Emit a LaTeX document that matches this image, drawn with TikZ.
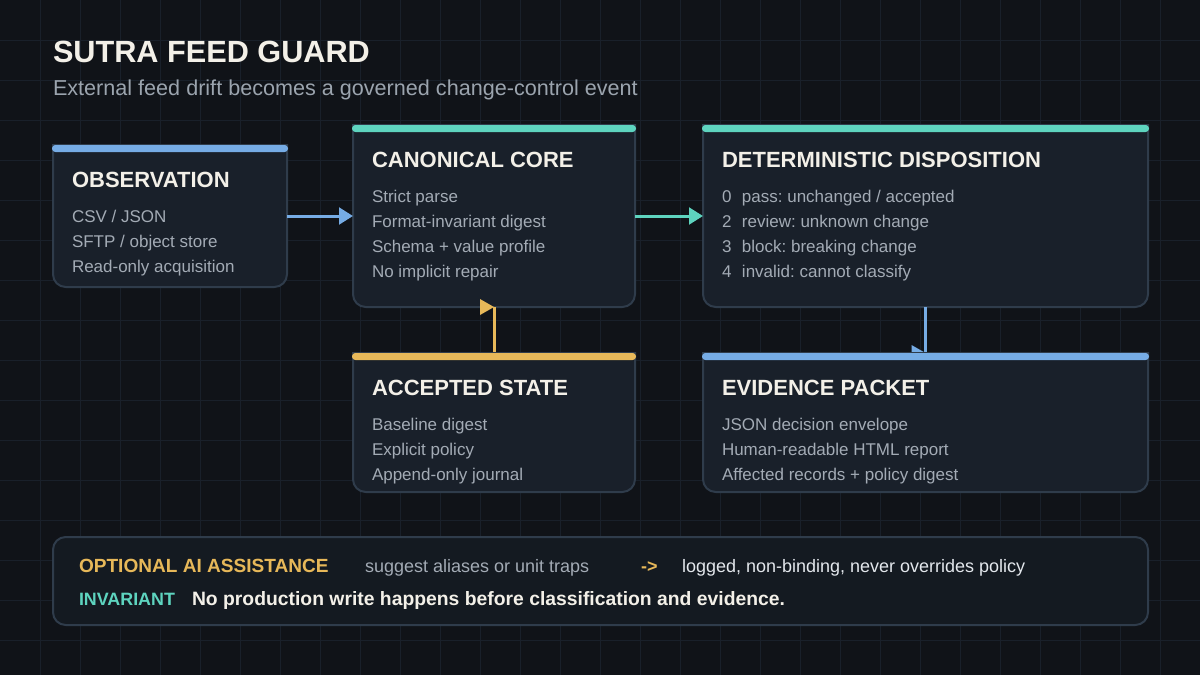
\documentclass[tikz,border=0pt]{standalone}
\usepackage{fontspec}
\setmainfont{Liberation Sans}
\usetikzlibrary{fit,arrows.meta}
\frenchspacing
\definecolor{bg}{HTML}{101318}
\definecolor{gridc}{HTML}{19202A}
\definecolor{cardfill}{HTML}{19202A}
\definecolor{cardline}{HTML}{2F3C4B}
\definecolor{panelfill}{HTML}{141A21}
\definecolor{cblue}{HTML}{76ACE5}
\definecolor{cteal}{HTML}{5ED4BF}
\definecolor{cyellow}{HTML}{E7B859}
\definecolor{ctitle}{HTML}{F3F0E8}
\definecolor{cbody}{HTML}{A3ABB5}
\definecolor{csub}{HTML}{9BA4AE}
\definecolor{clight}{HTML}{E3E7EC}
\newcommand\fsz[1]{\fontsize{#1}{#1}\selectfont}
\newcommand\drawcard[2]{%
  \draw[cardframe] (#1.north west) -- ([yshift=9.5pt]#1.south west)
    arc[start angle=180,end angle=270,radius=9.5pt]
    -- ([xshift=-9.5pt]#1.south east)
    arc[start angle=270,end angle=360,radius=9.5pt]
    -- (#1.north east) -- cycle;
  \fill[#2, rounded corners=2.5pt] ([xshift=-0.75pt]#1.north west) rectangle ([xshift=0.75pt,yshift=-5.25pt]#1.north east);
}
\tikzset{
  txt/.style={inner sep=0pt, outer sep=0pt, anchor=base west},
  maintitle/.style={txt, text=ctitle, font=\fsz{23pt}\bfseries},
  subtitle/.style={txt, text=csub, font=\fsz{16.2pt}},
  cardtitle/.style={txt, text=ctitle, font=\fsz{16.5pt}\bfseries},
  cardbody/.style={txt, text=cbody, font=\fsz{12.75pt}},
  cardframe/.style={fill=cardfill, draw=cardline, line width=1.5pt},
  region/.style={inner sep=0pt, outer sep=0pt},
  flow/.style={line width=2.25pt},
  flowtip/.style={-{Triangle[length=10.5pt,width=12.5pt]}},
  gridline/.style={draw=gridc, line width=0.75pt},
  paneltag/.style={txt, font=\fsz{14.3pt}\bfseries},
  paneltext/.style={txt, font=\fsz{13.5pt}}
}
\begin{document}
\begin{tikzpicture}[x=0.75pt,y=-0.75pt]
\useasboundingbox (0,0) rectangle (1200,675);
\fill[bg] (0,0) rectangle (1200,675);
\foreach \gx in {40,80,...,1160} {\draw[gridline] (\gx,0) -- (\gx,675);}
\foreach \gy in {40,80,...,640} {\draw[gridline] (0,\gy) -- (1200,\gy);}

% header
\node[maintitle] (title) at (53,62) {SUTRA FEED GUARD};
\node[subtitle] (subtitle) at (53,95) {External feed drift becomes a governed change-control event};

% regions
\node[region, fit={(53,145) (287,287)}] (obs) {};
\node[region, fit={(353,125) (635,307)}] (core) {};
\node[region, fit={(703,125) (1148,307)}] (det) {};
\node[region, fit={(353,353) (635,492)}] (acc) {};
\node[region, fit={(703,353) (1148,492)}] (evid) {};

% upper cards
\drawcard{obs}{cblue}
\drawcard{core}{cteal}
\drawcard{det}{cteal}

% connectors
\draw[flow, flowtip, cblue] (obs.east) -- (core.west);
\draw[flow, flowtip, cteal] (core.east) -- (det.west);
\draw[flow, cyellow] (acc.north) -- (core.south);
\fill[cyellow] (core.south) -- ++(-14,-8) -- ++(0,16) -- cycle;
\draw[flow, cblue] (det.south) -- (evid.north);
\fill[cblue] (evid.north) -- ++(-14,-8) -- ++(0,16) -- cycle;

% lower cards
\drawcard{acc}{cyellow}
\drawcard{evid}{cblue}

% observation
\node[cardtitle] (obsT) at (72,187) {OBSERVATION};
\node[cardbody] (obs1) at (72,222) {CSV / JSON};
\node[cardbody] (obs2) at (72,247) {SFTP / object store};
\node[cardbody] (obs3) at (72,272) {Read-only acquisition};

% canonical core
\node[cardtitle] (coreT) at (372,167) {CANONICAL CORE};
\node[cardbody] (core1) at (372,202) {Strict parse};
\node[cardbody] (core2) at (372,227) {Format-invariant digest};
\node[cardbody] (core3) at (372,252) {Schema + value profile};
\node[cardbody] (core4) at (372,277) {No implicit repair};

% deterministic disposition
\node[cardtitle] (detT) at (722,167) {DETERMINISTIC DISPOSITION};
\node[cardbody] (det1) at (722,202) {0\hskip7.9pt pass: unchanged / accepted};
\node[cardbody] (det2) at (722,227) {2\hskip7.9pt review: unknown change};
\node[cardbody] (det3) at (722,252) {3\hskip7.9pt block: breaking change};
\node[cardbody] (det4) at (722,277) {4\hskip7.9pt invalid: cannot classify};

% accepted state
\node[cardtitle] (accT) at (372,395) {ACCEPTED STATE};
\node[cardbody] (acc1) at (372,430) {Baseline digest};
\node[cardbody] (acc2) at (372,455) {Explicit policy};
\node[cardbody] (acc3) at (372,480) {Append-only journal};

% evidence packet
\node[cardtitle] (evidT) at (722,395) {EVIDENCE PACKET};
\node[cardbody] (evid1) at (722,430) {JSON decision envelope};
\node[cardbody] (evid2) at (722,455) {Human-readable HTML report};
\node[cardbody] (evid3) at (722,480) {Affected records + policy digest};

% bottom panel
\node[region, fit={(53,537) (1148,625)}] (panel) {};
\draw[fill=panelfill, draw=cardline, line width=1.5pt, rounded corners=9.5pt] (panel.north west) rectangle (panel.south east);
\node[paneltag, text=cyellow] (aiT) at (79,572) {OPTIONAL AI ASSISTANCE};
\node[paneltext, text=cbody] (aiS) at (365,572) {suggest aliases or unit traps};
\node[paneltext, text=cyellow, font=\fsz{13.5pt}\bfseries] (aiA) at (641,572) {->};
\node[paneltext, text=clight] (aiL) at (682,572) {logged, non-binding, never overrides policy};
\node[paneltag, text=cteal, font=\fsz{13.4pt}\bfseries] (invT) at (79,605) {INVARIANT};
\node[paneltag, text=ctitle, font=\fsz{14.5pt}\bfseries] (invS) at (192,605) {No production write happens before classification and evidence.};
\end{tikzpicture}
\end{document}
